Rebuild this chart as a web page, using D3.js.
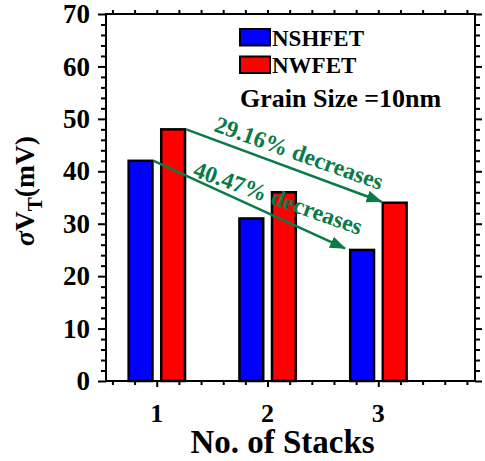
<!DOCTYPE html>
<html>
<head>
<meta charset="utf-8">
<script src="https://cdn.jsdelivr.net/npm/d3@7"></script>
<style>
  body { margin: 0; background: #fff; }
  svg text { font-family: "Liberation Serif", "Times New Roman", serif; font-weight: bold; }
</style>
</head>
<body>
<div class="chart"></div>
<script>
// Data
var stacks = [1, 2, 3];
var seriesNames = ['NSHFET', 'NWFET'];
var nshfet = [42, 31, 25];
var nwfet = [48, 36, 34];
var seriesColors = ['#0000ff', '#ff0000'];
var yTicks = [0, 10, 20, 30, 40, 50, 60, 70];
var xTicks = [1, 2, 3];
var notes = ['29.16% decreases', '40.47% decreases'];

var width = 485, height = 461;
var margin = { top: 14, right: 10, bottom: 80, left: 106 };
var green = '#0b7a49';

var svg = d3.select('.chart').append('svg')
  .attr('width', width)
  .attr('height', height);

var x = d3.scaleLinear()
  .domain([0.542, 3.873])
  .range([margin.left, width - margin.right]);
var y = d3.scaleLinear()
  .domain([0, 70])
  .range([height - margin.bottom, margin.top]);

var barW = 0.215;      // bar width in x units
var offs = [-0.146, 0.148];   // series offsets from the tick
var series = [nshfet, nwfet];

// minor ticks
var xMinor = d3.range(0.6, 3.81, 0.2);
var yMinor = d3.range(0, 70.1, 2).filter(v => v % 10 !== 0);

function styleAxis(g) {
  g.select('.domain').remove();
  g.selectAll('.tick line').attr('stroke', '#000').attr('stroke-width', 2);
  g.selectAll('.tick text').remove();
}

// left
svg.append('g').attr('transform', 'translate(' + margin.left + ',0)')
  .call(d3.axisLeft(y).tickValues(yMinor).tickSize(5)).call(styleAxis);
svg.append('g').attr('transform', 'translate(' + margin.left + ',0)')
  .call(d3.axisLeft(y).tickValues(yTicks).tickSize(8)).call(styleAxis);
// right
svg.append('g').attr('transform', 'translate(' + (width - margin.right) + ',0)')
  .call(d3.axisRight(y).tickValues(yMinor).tickSize(5)).call(styleAxis);
svg.append('g').attr('transform', 'translate(' + (width - margin.right) + ',0)')
  .call(d3.axisRight(y).tickValues(yTicks).tickSize(7)).call(styleAxis);
// bottom
svg.append('g').attr('transform', 'translate(0,' + y(0) + ')')
  .call(d3.axisBottom(x).tickValues(xMinor.filter(v => Math.abs(v - Math.round(v)) > 0.01)).tickSize(4)).call(styleAxis);
svg.append('g').attr('transform', 'translate(0,' + y(0) + ')')
  .call(d3.axisBottom(x).tickValues(xTicks).tickSize(6)).call(styleAxis);
// top
svg.append('g').attr('transform', 'translate(0,' + y(70) + ')')
  .call(d3.axisTop(x).tickValues(xMinor).tickSize(4)).call(styleAxis);

// tick labels
svg.append('g').selectAll('text').data(yTicks).enter().append('text')
  .attr('x', margin.left - 16)
  .attr('y', d => y(d))
  .attr('dy', '0.34em')
  .attr('text-anchor', 'end')
  .style('font-size', '27px')
  .text(d => d);
svg.append('g').selectAll('text').data(xTicks).enter().append('text')
  .attr('x', d => x(d))
  .attr('y', y(0) + 41)
  .attr('text-anchor', 'middle')
  .style('font-size', '26px')
  .text(d => d);

// bars
series.forEach(function(vals, si) {
  svg.append('g').selectAll('rect').data(vals).enter().append('rect')
    .attr('x', (d, i) => x(stacks[i] + offs[si] - barW / 2))
    .attr('y', d => y(d))
    .attr('width', x(barW) - x(0))
    .attr('height', d => y(0) - y(d))
    .attr('fill', seriesColors[si])
    .attr('stroke', '#000')
    .attr('stroke-width', 2.5);
});

// frame
svg.append('rect')
  .attr('x', x.range()[0]).attr('y', y(70))
  .attr('width', x.range()[1] - x.range()[0])
  .attr('height', y(0) - y(70))
  .attr('fill', 'none')
  .attr('stroke', '#000')
  .attr('stroke-width', 2);

// arrow marker
svg.append('defs').append('marker')
  .attr('id', 'head')
  .attr('markerUnits', 'userSpaceOnUse')
  .attr('viewBox', '0 0 16 12')
  .attr('refX', 15).attr('refY', 6)
  .attr('markerWidth', 16).attr('markerHeight', 12)
  .attr('orient', 'auto')
  .append('path')
  .attr('d', 'M0,0 L16,6 L0,12 Z')
  .attr('fill', green);

// arrows: right edge of first bar to left edge of third bar
var halfPx = (x(barW) - x(0)) / 2 + 1.2;
[[1, 0], [0, 0]].forEach(function(a, k) {
  var si = a[0];
  var vals = series[si];
  var x1 = x(stacks[0] + offs[si]) + halfPx;
  var y1 = y(vals[0]);
  var x2 = x(stacks[2] + offs[si]) - halfPx - (si === 0 ? 4 : 0);
  var y2 = y(vals[2]) - (si === 0 ? 1.5 : 1);
  svg.append('line')
    .attr('x1', x1).attr('y1', y1)
    .attr('x2', x2).attr('y2', y2)
    .attr('stroke', green)
    .attr('stroke-width', 2.5)
    .attr('marker-end', 'url(#head)');
});

// annotation labels
var noteAnchors = [[1.508, 47.7], [1.318, 39.1]];
svg.append('g').selectAll('text').data(notes).enter().append('text')
  .attr('transform', (d, i) => 'translate(' + x(noteAnchors[i][0]) + ',' + y(noteAnchors[i][1]) + ') rotate(19.5)')
  .attr('fill', green)
  .style('font-size', '23.5px')
  .text(d => d);

// legend
var legend = svg.append('g').attr('transform', 'translate(240,29)');
seriesNames.forEach(function(name, i) {
  legend.append('rect')
    .attr('x', 0).attr('y', i * 27.5)
    .attr('width', 30).attr('height', 16.5)
    .attr('fill', seriesColors[i])
    .attr('stroke', '#000')
    .attr('stroke-width', 2);
  legend.append('text')
    .attr('x', 32).attr('y', i * 27.5 + 16.5)
    .style('font-size', '23px')
    .text(name);
});
svg.append('text')
  .attr('x', 240).attr('y', 107)
  .style('font-size', '26px')
  .text('Grain Size =10nm');

// axis titles
svg.append('text')
  .attr('x', (x(1) + x(3)) / 2 + 15)
  .attr('y', 453)
  .attr('text-anchor', 'middle')
  .style('font-size', '33px')
  .text('No. of Stacks');

var yt = svg.append('text')
  .attr('transform', 'translate(34,191) rotate(-90)')
  .attr('text-anchor', 'middle')
  .style('font-size', '27.5px');
yt.append('tspan').style('font-style', 'italic').text('σ');
yt.append('tspan').text('V');
yt.append('tspan').attr('dy', 8).style('font-size', '21px').text('T');
yt.append('tspan').attr('dy', -8).text('(mV)');
</script>
</body>
</html>
